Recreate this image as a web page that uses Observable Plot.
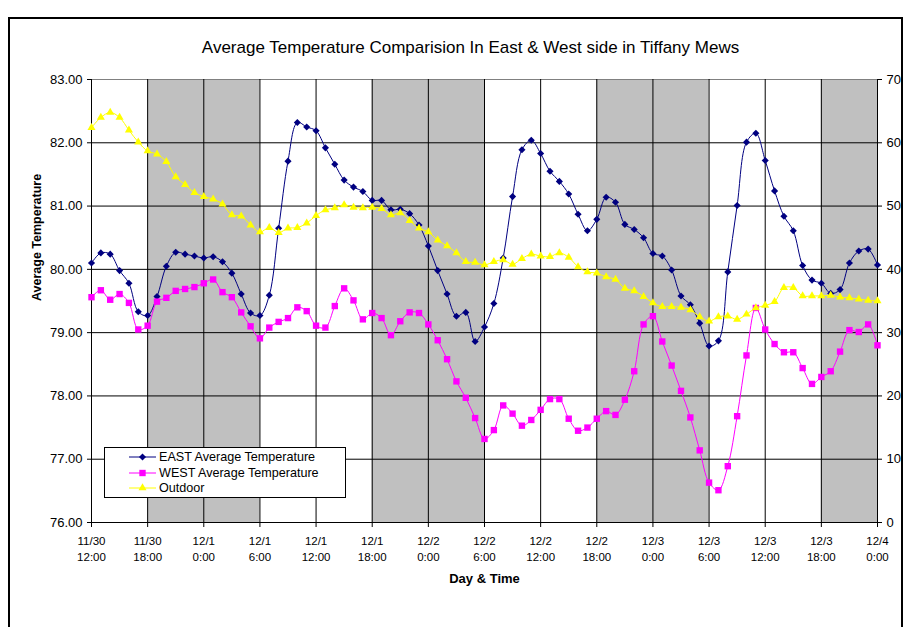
<!DOCTYPE html>
<html><head><meta charset="utf-8">
<script src="https://cdn.jsdelivr.net/npm/d3@7"></script>
<script src="https://cdn.jsdelivr.net/npm/@observablehq/plot@0.6"></script>
<style>
body{margin:0;background:#fff;font-family:"Liberation Sans",Arial,sans-serif;}
#wrap{position:relative;width:904px;height:627px;overflow:hidden;background:#fff;}
#chart{position:absolute;left:0;top:0;}
#frame{position:absolute;left:8px;top:17px;width:895px;height:700px;border:2px solid #000;box-sizing:border-box;pointer-events:none;}
#legend{position:absolute;left:104px;top:447px;width:242px;height:51px;border:1px solid #000;background:#fff;box-sizing:border-box;font-size:12.6px;color:#000;}
#legend .row{position:absolute;left:0;height:16px;display:flex;align-items:center;}
#legend svg{display:block;}
</style></head><body>
<div id="wrap"><div id="chart"></div><div id="frame"></div><div id="legend"></div></div>
<script>
// ---------- data ----------
const chartTitle = "Average Temperature Comparision In East & West side in Tiffany Mews";
const yTitle = "Average Temperature";
const xTitle = "Day & Time";
const seriesNames = ["EAST Average Temperature", "WEST Average Temperature", "Outdoor"];

// hourly readings starting 11/30 12:00 (index = hours since start)
const east = [
  80.10, 80.26, 80.24, 79.98, 79.78, 79.33, 79.27, 79.57, 80.05, 80.27,
  80.24, 80.21, 80.18, 80.20, 80.12, 79.94, 79.61, 79.31, 79.27, 79.59,
  80.65, 81.71, 82.32, 82.25, 82.19, 81.92, 81.66, 81.41, 81.30, 81.23,
  81.09, 81.09, 80.94, 80.95, 80.88, 80.70, 80.37, 79.98, 79.61, 79.26,
  79.32, 78.86, 79.09, 79.46, 80.18, 81.15, 81.89, 82.04, 81.83, 81.55,
  81.39, 81.19, 80.87, 80.61, 80.79, 81.14, 81.06, 80.71, 80.63, 80.50,
  80.25, 80.21, 79.99, 79.58, 79.44, 79.15, 78.79, 78.87, 79.96, 81.01,
  82.01, 82.15, 81.72, 81.24, 80.84, 80.61, 80.06, 79.83, 79.78, 79.62,
  79.68, 80.10, 80.29, 80.32, 80.07
];
const west = [
  79.56, 79.67, 79.52, 79.61, 79.47, 79.05, 79.11, 79.49, 79.55, 79.66,
  79.69, 79.72, 79.78, 79.84, 79.64, 79.56, 79.32, 79.10, 78.91, 79.08,
  79.17, 79.23, 79.40, 79.34, 79.11, 79.08, 79.42, 79.70, 79.51, 79.21,
  79.31, 79.23, 78.96, 79.18, 79.32, 79.31, 79.13, 78.88, 78.58, 78.23,
  77.97, 77.65, 77.32, 77.46, 77.85, 77.72, 77.53, 77.62, 77.78, 77.95,
  77.95, 77.64, 77.45, 77.50, 77.64, 77.76, 77.70, 77.94, 78.39, 79.13,
  79.26, 78.86, 78.48, 78.08, 77.66, 77.14, 76.63, 76.51, 76.89, 77.68,
  78.64, 79.39, 79.05, 78.82, 78.69, 78.69, 78.44, 78.19, 78.30, 78.39,
  78.70, 79.04, 79.01, 79.13, 78.80
];
// outdoor temperature, read on the secondary (right) axis 0..70
const outdoor = [
  62.4, 64.0, 64.8, 64.0, 62.0, 60.1, 58.7, 58.2, 57.0, 54.6,
  53.4, 52.1, 51.5, 51.1, 50.3, 48.6, 48.4, 47.0, 45.9, 46.6,
  45.8, 46.5, 46.6, 47.3, 48.5, 49.4, 49.7, 50.2, 49.8, 49.7,
  49.8, 49.6, 48.6, 48.9, 47.7, 46.5, 45.9, 44.6, 43.7, 42.6,
  41.2, 41.1, 40.7, 41.2, 41.5, 40.8, 41.7, 42.4, 42.1, 42.0,
  42.6, 41.9, 40.4, 39.6, 39.4, 38.8, 38.4, 37.0, 36.6, 35.7,
  34.7, 34.1, 34.1, 34.0, 33.6, 32.5, 31.8, 32.5, 32.6, 32.1,
  32.9, 33.9, 34.3, 34.9, 37.1, 37.1, 35.8, 35.8, 35.8, 35.9,
  35.6, 35.5, 35.3, 35.1, 35.0
];

const xTickHours = [0, 6, 12, 18, 24, 30, 36, 42, 48, 54, 60, 66, 72, 78, 84];
const xTickLabels = ["11/30\n12:00", "11/30\n18:00", "12/1\n0:00", "12/1\n6:00", "12/1\n12:00",
  "12/1\n18:00", "12/2\n0:00", "12/2\n6:00", "12/2\n12:00", "12/2\n18:00", "12/3\n0:00",
  "12/3\n6:00", "12/3\n12:00", "12/3\n18:00", "12/4\n0:00"];
const leftTicks = [76, 77, 78, 79, 80, 81, 82, 83];
const rightTicks = [0, 10, 20, 30, 40, 50, 60, 70];
const nightStart = [6, 30, 54, 78];
const nightEnd = [18, 42, 66, 84];

const colors = ["#000080", "#FF00FF", "#FFFF00"];
const symbols = ["diamond2", "square", "triangle"];

// ---------- build ----------
const leftMin = 76, leftMax = 83, rightMin = 0, rightMax = 70;
const toLeft = v => leftMin + (v - rightMin) * (leftMax - leftMin) / (rightMax - rightMin);

const rows = east.map((e, i) => ({hour: i, east: e, west: west[i], outdoor: toLeft(outdoor[i])}));
const bands = nightStart.map((s, i) => ({start: s, end: nightEnd[i]}));

const chart = Plot.plot({
  width: 904,
  height: 627,
  marginLeft: 91,
  marginRight: 27,
  marginTop: 79,
  marginBottom: 105,
  style: {fontFamily: "'Liberation Sans', Arial, sans-serif", fontSize: "13px", color: "#000", background: "transparent"},
  x: {domain: [0, 84]},
  y: {domain: [leftMin, leftMax]},
  marks: [
    Plot.rect(bands, {x1: "start", x2: "end", fill: "#C0C0C0"}),
    Plot.frame({stroke: "#808080"}),
    Plot.gridY(leftTicks.slice(0, -1), {stroke: "#000", strokeOpacity: 1}),
    Plot.gridX(xTickHours, {stroke: "#000", strokeOpacity: 1}),
    Plot.axisY({anchor: "left", ticks: leftTicks, tickFormat: d3.format(".2f"), tickSize: 4, tickPadding: 5, label: null, fontSize: 13}),
    Plot.axisY({anchor: "right", ticks: rightTicks.map(toLeft), tickFormat: (d, i) => String(rightTicks[i]), tickSize: 4, tickPadding: 5, label: null, fontSize: 13}),
    Plot.axisX({ticks: xTickHours, tickFormat: () => "", tickSize: 5, label: null}),
    Plot.text(xTickHours, {x: d => d, frameAnchor: "bottom", text: (d, i) => xTickLabels[i], lineAnchor: "top", dy: 11, fontSize: 11.5, lineHeight: 1.4}),
    // series
    Plot.line(rows, {x: "hour", y: "east", stroke: colors[0], strokeWidth: 1, curve: "catmull-rom"}),
    Plot.dot(rows, {x: "hour", y: "east", symbol: symbols[0], fill: colors[0], r: 3.2}),
    Plot.line(rows, {x: "hour", y: "west", stroke: colors[1], strokeWidth: 1, curve: "catmull-rom"}),
    Plot.dot(rows, {x: "hour", y: "west", symbol: symbols[1], fill: colors[1], r: 3.6}),
    Plot.line(rows, {x: "hour", y: "outdoor", stroke: colors[2], strokeWidth: 1, curve: "catmull-rom"}),
    Plot.dot(rows, {x: "hour", y: "outdoor", symbol: symbols[2], fill: colors[2], r: 3}),
    // titles
    Plot.text([chartTitle], {text: d => d, frameAnchor: "top", dy: -39, dx: -14, fontSize: 17}),
    Plot.text([yTitle], {text: d => d, frameAnchor: "left", rotate: -90, dx: -55, fontWeight: "bold", fontSize: 12.5}),
    Plot.text([xTitle], {text: d => d, frameAnchor: "bottom", dy: 60, fontWeight: "bold", fontSize: 13})
  ]
});
document.getElementById("chart").appendChild(chart);

// legend
const legend = d3.select("#legend");
seriesNames.forEach((name, i) => {
  const row = legend.append("div").attr("class", "row").style("top", (i * 15.5 + 1) + "px");
  const s = row.append("svg").attr("width", 54).attr("height", 16);
  s.append("line").attr("x1", 24).attr("x2", 51).attr("y1", 8).attr("y2", 8).attr("stroke", colors[i]).attr("stroke-width", 1);
  const sym = [d3.symbolDiamond2, d3.symbolSquare, d3.symbolTriangle][i];
  const size = Math.PI * [3.2, 3.6, 3][i] ** 2;
  s.append("path").attr("d", d3.symbol(sym, size)()).attr("transform", "translate(37.5,8)").attr("fill", colors[i]);
  row.append("span").text(name);
});
</script>
</body></html>
